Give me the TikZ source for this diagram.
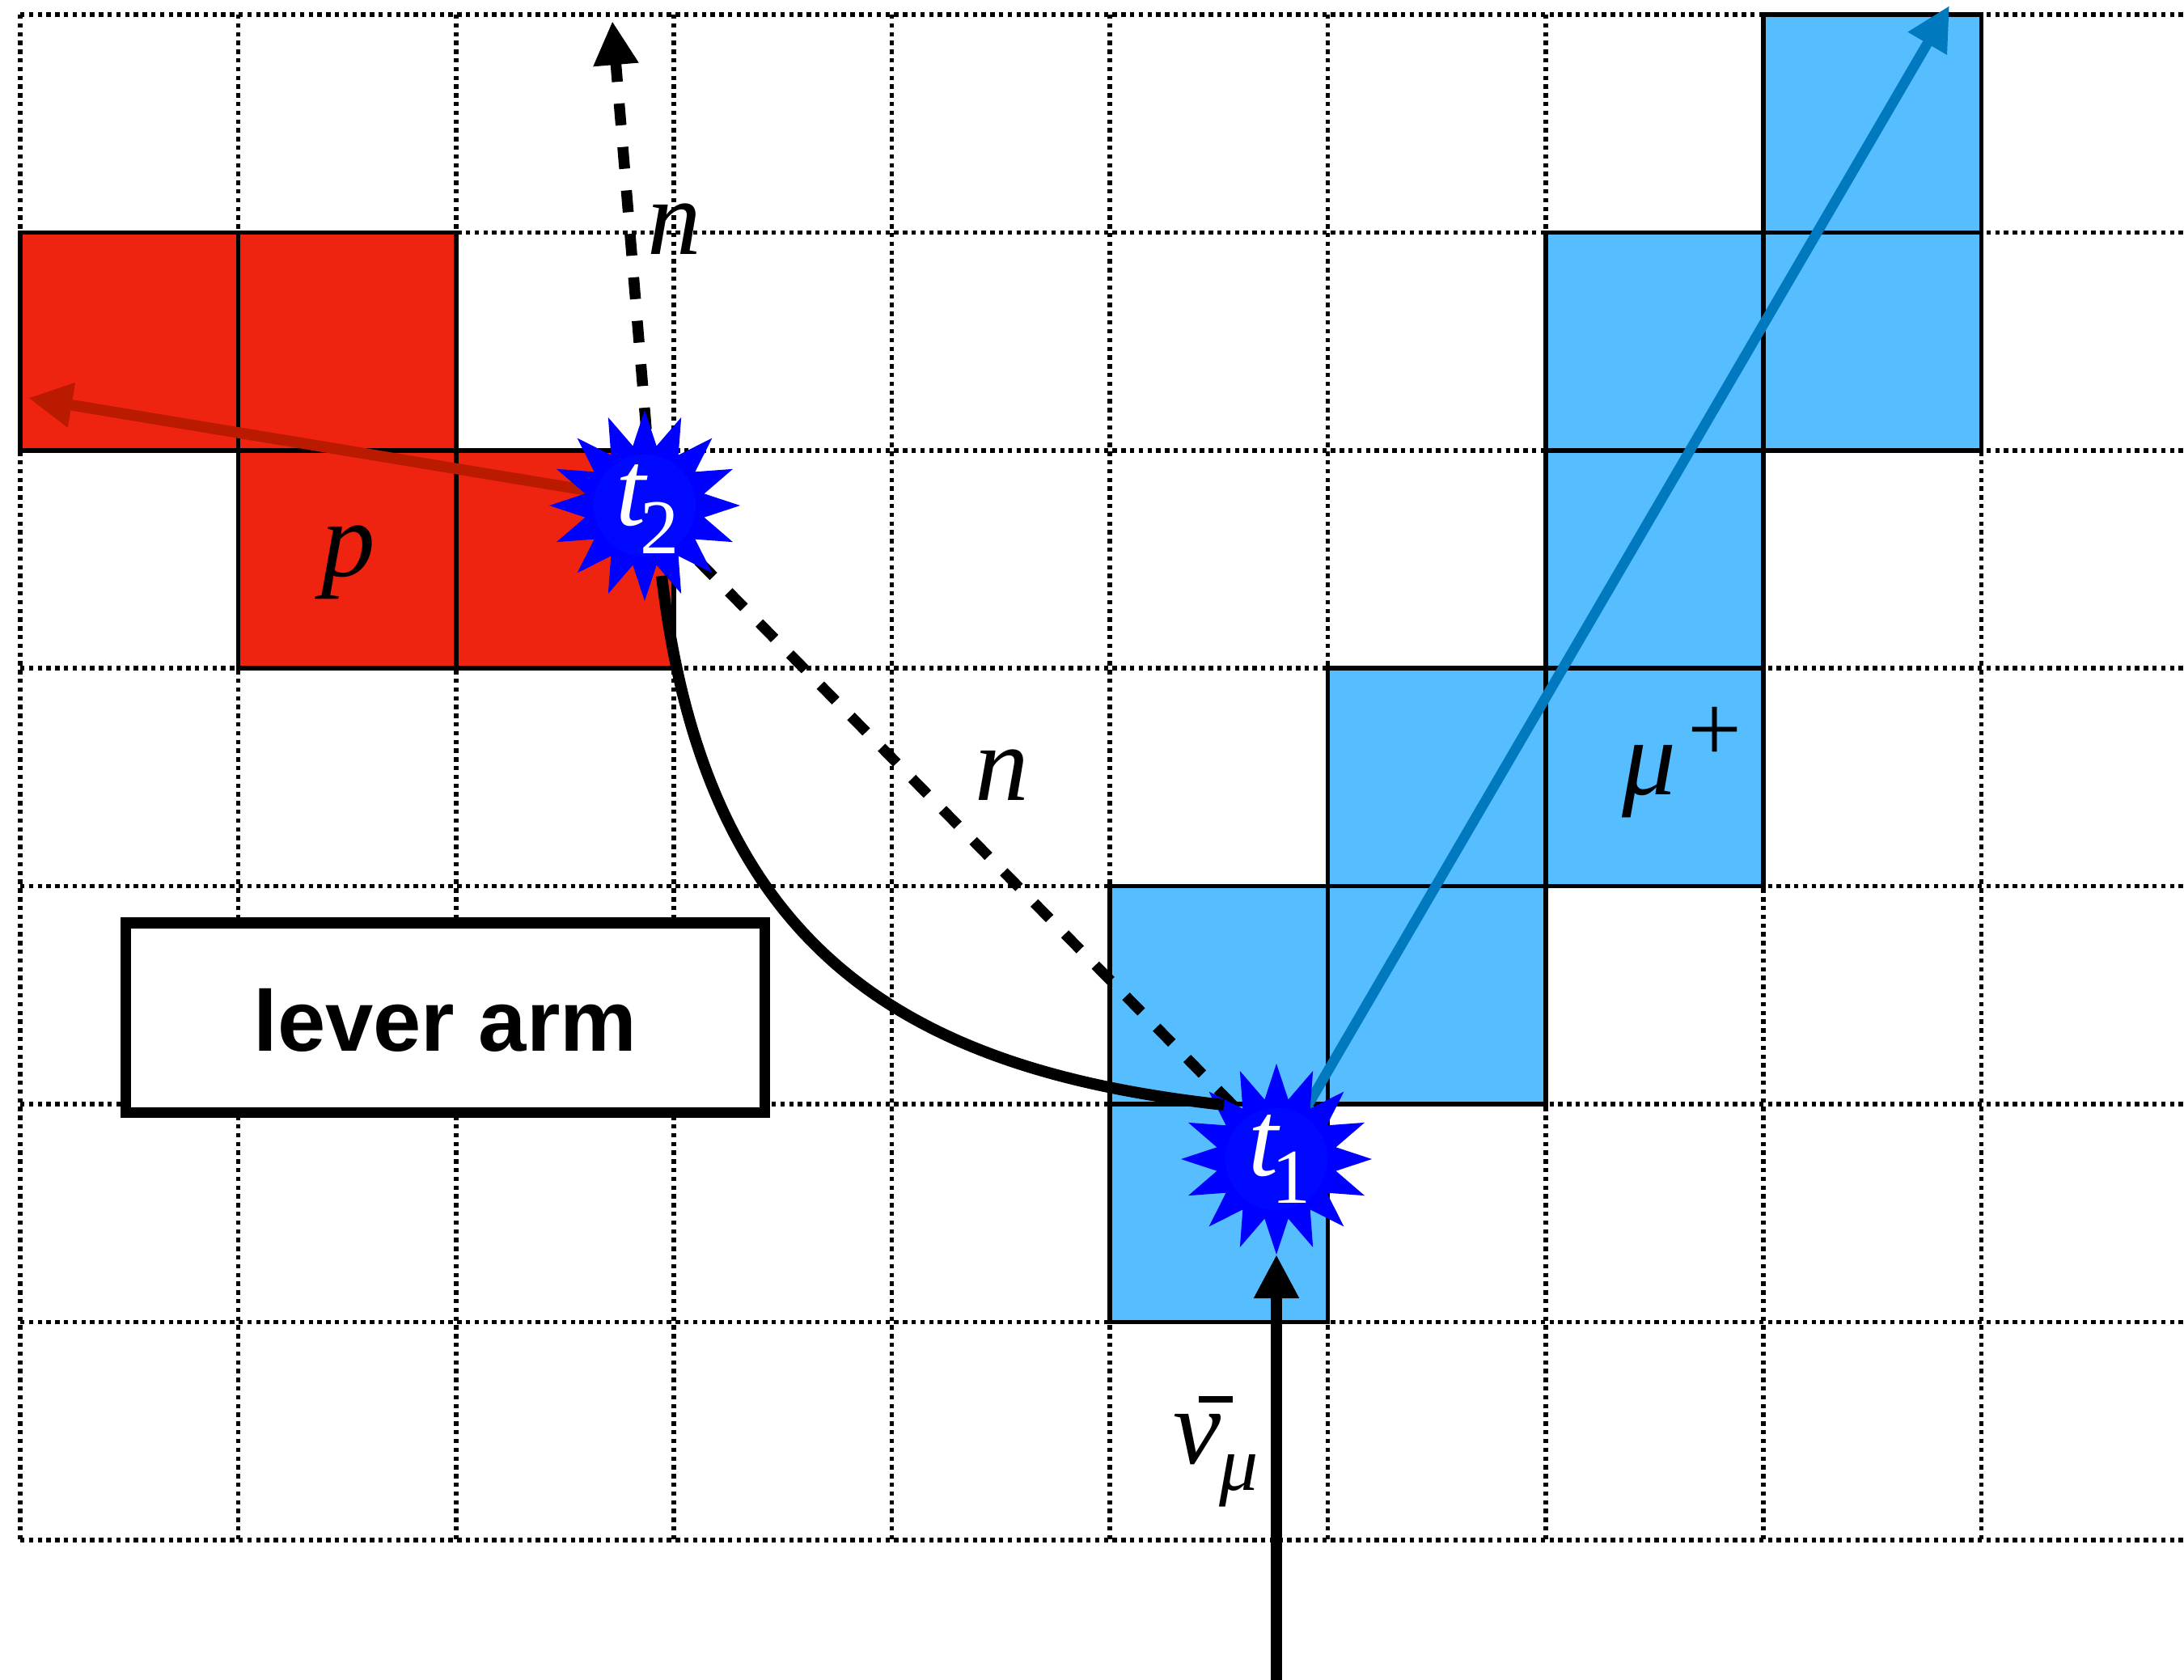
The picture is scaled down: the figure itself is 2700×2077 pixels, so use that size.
\documentclass[tikz,border=0pt]{standalone}
\usepackage{fontspec}
\setmainfont{Liberation Serif}
\newfontfamily\boxfont{Liberation Sans}[BoldFont={Liberation Sans Bold}]
\usetikzlibrary{arrows.meta,calc}
\definecolor{cellblue}{HTML}{56BDFF}
\definecolor{cellred}{HTML}{EF2410}
\definecolor{arrblue}{HTML}{0079BF}
\definecolor{arrred}{HTML}{BA1A00}
\definecolor{corecol}{HTML}{0008FF}
\definecolor{burstcol}{HTML}{0000FF}
\newcommand{\bigit}{\fontsize{37.84pt}{40pt}\selectfont\itshape}
\newcommand{\subup}{\fontsize{27.3pt}{30pt}\selectfont\upshape}
\newcommand{\subit}{\fontsize{27.3pt}{30pt}\selectfont\itshape}
\newcommand{\supup}{\fontsize{33.8pt}{36pt}\selectfont\upshape}
\newcommand{\burstshape}[2]{\fill[burstcol] plot[samples at={0,1,...,31}] ({#1+ifthenelse(mod(\x,2)==0,118,75)*sin(\x*11.25)},{#2-ifthenelse(mod(\x,2)==0,118,75)*cos(\x*11.25)}) -- cycle;}
\tikzset{
  gridline/.style={line width=1.565pt,black,dash pattern=on 1.536pt off 1.536pt},
  celledge/.style={line width=1.565pt,black},
  lbl/.style={inner sep=0pt,outer sep=0pt,anchor=base west},
  core/.style={circle,minimum size=1.26cm,inner sep=0pt,outer sep=0pt,fill=corecol,draw=none},
  bighead/.style={-{Triangle[length=15.4pt,width=14.9pt]}},
  dashA/.style={dash pattern=on 7.68pt off 7.65pt},
  leverbox/.style={draw=black,fill=white,line width=3.84pt,minimum width=7.893cm,minimum height=2.345cm,inner sep=0pt,text height=0.816cm,text depth=0pt,font=\boxfont\bfseries\fontsize{30.3pt}{32pt}\selectfont},
}
\begin{document}
\begin{tikzpicture}[x=0.01cm,y=-0.01cm]
\useasboundingbox (0,0) rectangle (2700,2077);
% grid
\foreach \k in {0,...,9}{
  \pgfmathsetmacro\xx{25+269.4*\k}
  \draw[gridline] (\xx,18) -- (\xx,1904);
}
\foreach \j in {0,...,7}{
  \pgfmathsetmacro\yy{18+269.4*\j}
  \draw[gridline] (25,\yy) -- (2700,\yy);
}
% cells
\foreach \k/\j/\c in {8/0/cellblue,7/1/cellblue,8/1/cellblue,7/2/cellblue,6/3/cellblue,7/3/cellblue,5/4/cellblue,6/4/cellblue,5/5/cellblue,0/1/cellred,1/1/cellred,1/2/cellred,2/2/cellred}{
  \pgfmathsetmacro\xa{25+269.4*\k}
  \pgfmathsetmacro\ya{18+269.4*\j}
  \pgfmathsetmacro\xb{\xa+269.4}
  \pgfmathsetmacro\yb{\ya+269.4}
  \filldraw[celledge,fill=\c] (\xa,\ya) rectangle (\xb,\yb);
}
% anchors for vertices (placed first so connectors can use them)
\coordinate (c2) at (797,625);
\coordinate (c1) at (1578,1433);
\coordinate (blueTip) at (2410,7);
\coordinate (redTip) at (35,492);
\coordinate (nTip) at (757,26);
\coordinate (nStart) at (799,531);
\coordinate (nuStart) at (1578,2077);
\coordinate (nuTip) at (1578,1551);
% connectors under the stars
\draw[bighead,arrblue,line width=3.55pt] (c1) -- (blueTip);
\draw[bighead,arrred,line width=3.85pt] ($(c2)+(0,-7)$) -- (redTip);
\draw[bighead,black,line width=3.85pt,dashA] (nStart) -- (nTip);
\draw[black,line width=3.7pt,dash pattern=on 7.68pt off 7.65pt,dash phase=3.84pt] ($(c2)+(0,1)$) -- ($(c1)+(0,-12)$);
\draw[bighead,black,line width=3.8pt] (nuStart) -- (nuTip);
% bursts
\burstshape{797}{625}
\node[core] (t2) at (c2) {};
\burstshape{1578}{1433}
\node[core] (t1) at (c1) {};
\node[lbl,text=white,font=\bigit] (t2a) at (761,650) {t};
\node[lbl,text=white,font=\subup] (t2b) at (791,685) {2};
\node[lbl,text=white,font=\bigit] (t1a) at (1543,1453) {t};
\node[lbl,text=white,font=\subup] (t1b) at (1572.5,1487) {1};
% lever arm curve on top
\draw[black,line width=4pt] ($(t2)+(21,87)$) .. controls (872,1170) and (1113,1322) .. ($(t1)+(-65,-67)$);
% box
\node[leverbox] (lever) at (550.4,1258.2) {lever arm};
% labels
\node[lbl,font=\bigit] (n1) at (800,315) {n};
\node[lbl,font=\bigit] (n2) at (1205,990) {n};
\node[lbl,font=\bigit] (p) at (397,713) {p};
\node[lbl,font=\bigit] (mu) at (2005,983) {μ};
\node[lbl,font=\supup] (plus) at (2086,942) {+};
\node[lbl,font=\bigit] (nu) at (1450,1809) {ν};
\fill[black] (1481.7,1726) rectangle (1524,1734);
\node[lbl,font=\subit] (nusub) at (1507,1842) {μ};
\end{tikzpicture}
\end{document}
